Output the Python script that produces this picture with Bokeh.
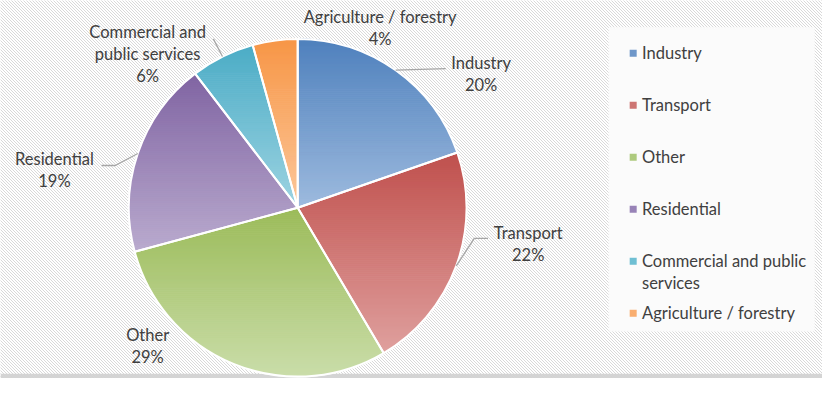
import math
import textwrap
import numpy as np
from bokeh.plotting import figure
from bokeh.models import ColumnDataSource
from bokeh.core.properties import value
from bokeh.embed import file_html
from bokeh.resources import INLINE

# ---------------- data ----------------
categories = ["Industry", "Transport", "Other", "Residential",
              "Commercial and public services", "Agriculture / forestry"]
shares = [19.7, 21.8, 29.3, 18.8, 6.1, 4.3]

# ---------------- styles ----------------
top_colors = ["#4F81BD", "#C0504D", "#9BBB59", "#8064A2", "#4BACC6", "#F79646"]
bottom_colors = ["#9DBADE", "#DFA09E", "#CADDA9", "#B9AACE", "#9DD3E1", "#FCC79B"]
legend_colors = ["#6F97C9", "#CD7573", "#AECA7E", "#9883B7", "#6FBFD3", "#F9AE70"]
TEXT_COLOR = "#404040"
FONT = "Lato"
FS = "16.5px"

# ---------------- layout (reference pixel space) ----------------
W, H = 822, 378
RW, RH = 838, 394
SX, SY = W / RW, H / RH


def px(rx, ry):
    return rx * SX, H - ry * SY


CX, CY = px(303, 216)
R = 176 * SY
LINE_DY = 23
label_first_line = [(490, 65), (538, 242), (150, 349), (55, 165), (150, 33), (387, 17)]
label_wrap = [40, 40, 40, 40, 15, 40]
leader_pts = [[(454, 71)], [(483, 248), (497, 248)], None,
              [(117, 172), (103, 172)], [(217, 40)], None]
LEG_SQ_X, LEG_TX_X, LEG_Y0, LEG_DY, LEG_WRAP = 645, 654, 55, 54.2, 22
HATCH_STEP = 3

p = figure(width=W, height=H, x_range=(0, W), y_range=(0, H),
           x_axis_type=None, y_axis_type=None, output_backend="svg",
           toolbar_location=None, min_border=0, outline_line_color=None,
           background_fill_color="white", border_fill_color="white")

# background diagonal hatch drawn as thin segments
hx0 = np.arange(-H, W + HATCH_STEP, HATCH_STEP, dtype=float)
p.segment(x0=hx0, y0=np.full_like(hx0, H + 2), x1=hx0 + H + 4, y1=np.full_like(hx0, -2),
          line_color="#d9d9d9", line_width=1)
lx0, ly0 = px(620, 28)
lx1, ly1 = px(830, 345)
p.quad(left=[lx0], right=[lx1], bottom=[ly1], top=[ly0], fill_color="#fbfbfb",
       line_color=None)
bx0, by0 = px(0, 389)
p.quad(left=[0], right=[W], bottom=[0], top=[by0], fill_color="#d4d4d4",
       line_color=None)


def hex2rgb(h):
    h = h.lstrip("#")
    return [int(h[i:i + 2], 16) for i in (0, 2, 4)]


def lerp(c0, c1, t):
    a, b = hex2rgb(c0), hex2rgb(c1)
    return "#%02x%02x%02x" % tuple(int(round(a[i] + (b[i] - a[i]) * t)) for i in range(3))


def clip(poly, y, keep_above):
    out = []
    n = len(poly)
    for i in range(n):
        pp, qq = poly[i], poly[(i + 1) % n]
        pin = pp[1] >= y if keep_above else pp[1] <= y
        qin = qq[1] >= y if keep_above else qq[1] <= y
        if pin:
            out.append(pp)
        if pin != qin:
            t = (y - pp[1]) / (qq[1] - pp[1])
            out.append((pp[0] + t * (qq[0] - pp[0]), y))
    return out


total = sum(shares)
cum = np.concatenate([[0], np.cumsum(shares)]) / total
starts = [math.pi / 2 - 2 * math.pi * cum[i] for i in range(len(shares))]
ends = [math.pi / 2 - 2 * math.pi * cum[i + 1] for i in range(len(shares))]
mids = [(a + b) / 2 for a, b in zip(starts, ends)]

# white disc under the pie so that the hatch does not show through the seams
p.circle(x=[CX], y=[CY], radius=R + 1, fill_color="white", line_color=None)

bxs, bys, bcs = [], [], []
for i in range(len(shares)):
    ts = np.linspace(starts[i], ends[i], 120)
    poly = [(CX, CY)] + list(zip(CX + R * np.cos(ts), CY + R * np.sin(ts)))
    ymin = min(q[1] for q in poly)
    ymax = max(q[1] for q in poly)
    nb = max(2, int((ymax - ymin) / 2))
    edges = np.linspace(ymax, ymin, nb + 1)
    for k in range(nb):
        yhi, ylo = edges[k], edges[k + 1]
        band = clip(clip(poly, ylo, True), yhi, False)
        if len(band) < 3:
            continue
        t = (ymax - (yhi + ylo) / 2) / (ymax - ymin)
        bxs.append([q[0] for q in band])
        bys.append([q[1] for q in band])
        bcs.append(lerp(top_colors[i], bottom_colors[i], t))

p.patches(xs="xs", ys="ys", fill_color="c", line_color="c", line_width=1,
          source=ColumnDataSource(dict(xs=bxs, ys=bys, c=bcs)))

p.wedge(x=CX, y=CY, radius=R, start_angle=ends, end_angle=starts,
        direction="anticlock", fill_alpha=0, line_color="white", line_width=2)

# leader lines
for i, pts in enumerate(leader_pts):
    if not pts:
        continue
    xs = [CX + R * math.cos(mids[i])]
    ys = [CY + R * math.sin(mids[i])]
    for (rx, ry) in pts:
        x, y = px(rx, ry)
        xs.append(x)
        ys.append(y)
    p.line(xs, ys, line_color="#a6a6a6", line_width=1.3)

# data labels
tx, ty, tt = [], [], []
for i, cat in enumerate(categories):
    lines = textwrap.wrap(cat, label_wrap[i]) + ["%d%%" % round(shares[i] / total * 100)]
    rx, ry = label_first_line[i]
    for j, line in enumerate(lines):
        x, y = px(rx, ry + j * LINE_DY)
        tx.append(x)
        ty.append(y)
        tt.append(line)
p.text(x="x", y="y", text="t", source=ColumnDataSource(dict(x=tx, y=ty, t=tt)),
       text_font=value(FONT), text_font_size=FS, text_color=TEXT_COLOR,
       text_align="center", text_baseline="middle")

# legend
sqx, sqy, lgx, lgy, lgt = [], [], [], [], []
for i, cat in enumerate(categories):
    ry = LEG_Y0 + i * LEG_DY
    x, y = px(LEG_SQ_X, ry)
    sqx.append(x)
    sqy.append(y)
    for j, line in enumerate(textwrap.wrap(cat, LEG_WRAP)):
        x, y = px(LEG_TX_X, ry + j * LINE_DY)
        lgx.append(x)
        lgy.append(y)
        lgt.append(line)
p.scatter(x=sqx, y=sqy, marker="square", size=7, fill_color=legend_colors, line_color=None)
p.text(x="x", y="y", text="t", source=ColumnDataSource(dict(x=lgx, y=lgy, t=lgt)),
       text_font=value(FONT), text_font_size=FS, text_color=TEXT_COLOR,
       text_align="left", text_baseline="middle")

open("out.html", "w").write(file_html(p, INLINE))
